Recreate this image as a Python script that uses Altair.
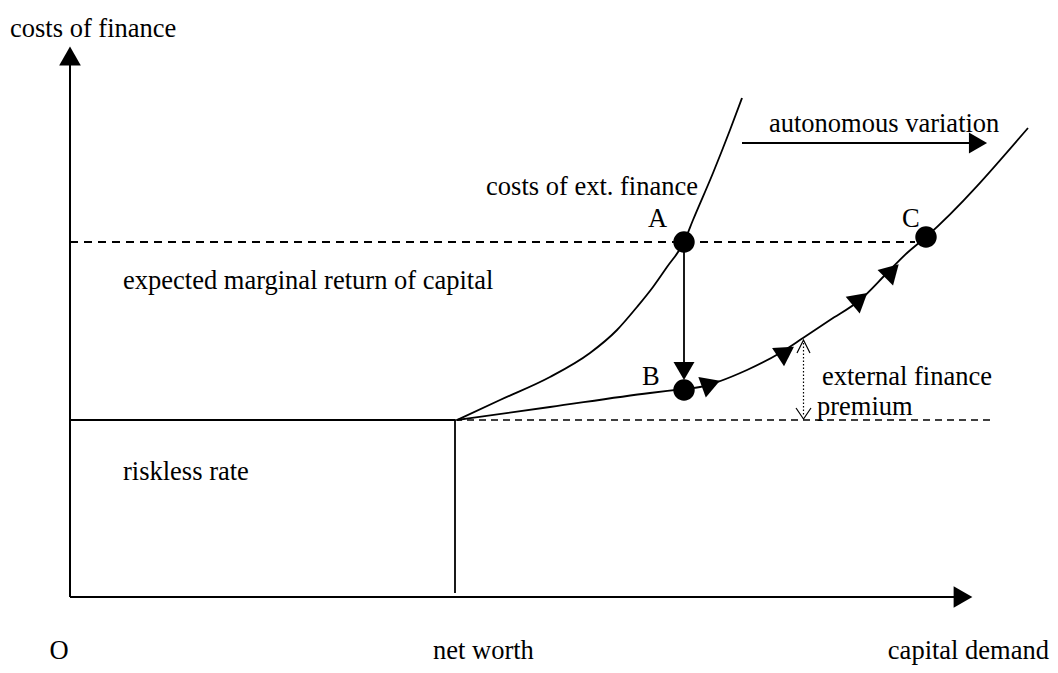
import altair as alt
import pandas as pd
import numpy as np

# ---------------------------------------------------------------
# Schematic drawn in an image-like frame: x to the right, y downward
# ---------------------------------------------------------------
X_DOMAIN = [8, 1050]
Y_DOMAIN = [8, 665]

# curve: costs of external finance (original)
ext_curve_x = [457, 500, 550, 590, 617, 637, 653, 667, 684, 693, 713, 730, 742]
ext_curve_y = [420, 400, 377, 353, 330, 307, 287, 267, 242, 220, 173, 130, 98]

# curve: costs of external finance after autonomous variation
shift_curve_x = [457, 550, 650, 684, 700, 747, 780, 803, 830, 860, 887, 907, 926, 1028]
shift_curve_y = [420, 407, 393, 389, 387, 370, 353, 338, 320, 300, 273, 253, 237, 128]

# equilibrium points
point_labels = ["A", "B", "C"]
point_x = [684, 684, 926]
point_y = [242, 390, 237]

# flow arrowheads along the shifted curve
flow_x = [711, 786, 860, 892]
flow_y = [384, 352, 299, 271]

# straight segments: (x1, y1, x2, y2)
axis_segments = [(70, 597, 70, 64), (70, 597, 957, 597)]
solid_segments = [(70, 420, 455, 420), (455, 420, 455, 593), (684, 242, 684, 366), (742, 143, 972, 143)]
riskless_dash = [(455, 420, 995, 420)]
return_dash = [(70, 242, 915, 242)]
premium_dotted = [(803.5, 343, 803.5, 416)]

# arrowheads: x, y, shape
axis_heads_x = [70, 963]
axis_heads_y = [56, 597]
axis_heads_shape = ["triangle-up", "triangle-right"]
small_heads_x = [684, 978]
small_heads_y = [371, 143]
small_heads_shape = ["triangle-down", "triangle-right"]

# open chevrons of the premium arrow
chev_id = [0, 0, 0, 1, 1, 1]
chev_x = [797, 803.5, 810, 796, 803.5, 811]
chev_y = [353, 340, 353, 408, 419, 408]

# texts
text_left = [
    ("costs of finance", 10, 37),
    ("net worth", 433, 659),
    ("autonomous variation", 769, 132),
    ("A", 648, 227),
    ("B", 642, 385),
    ("C", 902, 227),
    ("expected marginal return of capital", 123, 289),
    ("riskless rate", 123, 480),
    ("external finance", 822, 385),
    ("premium", 817, 415),
]
text_center = [("O", 59, 659)]
text_right = [("costs of ext. finance", 698, 195), ("capital demand", 1049, 659)]

FONT = "Liberation Serif"
FS = 26.5

xs = alt.Scale(domain=X_DOMAIN, nice=False, zero=False)
ys = alt.Scale(domain=Y_DOMAIN, nice=False, zero=False, reverse=True)
X = lambda f: alt.X(f, type="quantitative", scale=xs, axis=None)
Y = lambda f: alt.Y(f, type="quantitative", scale=ys, axis=None)


def seg_df(segs):
    return pd.DataFrame(segs, columns=["x", "y", "x2", "y2"])


def rules(segs, width, dash=None):
    kw = dict(color="black", strokeWidth=width)
    if dash is not None:
        kw["strokeDash"] = dash
    return alt.Chart(seg_df(segs)).mark_rule(**kw).encode(
        x=X("x"), y=Y("y"), x2="x2:Q", y2="y2:Q"
    )


def curve(xv, yv):
    df = pd.DataFrame({"x": xv, "y": yv, "k": range(len(xv))})
    return alt.Chart(df).mark_line(color="black", strokeWidth=1.8, interpolate="monotone").encode(
        x=X("x"), y=Y("y"), order="k:Q"
    )


# angles of the flow arrowheads from the local slope of the shifted curve
cx = np.array(shift_curve_x, dtype=float)
cy = np.array(shift_curve_y, dtype=float)
flow_ang = []
for fx in flow_x:
    dy = np.interp(fx + 4, cx, cy) - np.interp(fx - 4, cx, cy)
    flow_ang.append(float(np.degrees(np.arctan2(dy, 8.0))) % 360)

flow_df = pd.DataFrame({"x": flow_x, "y": flow_y, "ang": flow_ang})
flow_heads = alt.Chart(flow_df).mark_point(
    shape="triangle-right", filled=True, color="black", opacity=1, size=480
).encode(x=X("x"), y=Y("y"), angle=alt.Angle("ang:Q", scale=None))

axis_heads = alt.Chart(pd.DataFrame({"x": axis_heads_x, "y": axis_heads_y, "s": axis_heads_shape})).mark_point(
    filled=True, color="black", opacity=1, size=470
).encode(x=X("x"), y=Y("y"), shape=alt.Shape("s:N", scale=None))

small_heads = alt.Chart(pd.DataFrame({"x": small_heads_x, "y": small_heads_y, "s": small_heads_shape})).mark_point(
    filled=True, color="black", opacity=1, size=440
).encode(x=X("x"), y=Y("y"), shape=alt.Shape("s:N", scale=None))

dots = alt.Chart(pd.DataFrame({"x": point_x, "y": point_y, "lab": point_labels})).mark_point(
    shape="circle", filled=True, color="black", opacity=1, size=460
).encode(x=X("x"), y=Y("y"))

chevrons = alt.Chart(pd.DataFrame({"id": chev_id, "x": chev_x, "y": chev_y, "k": range(len(chev_x))})).mark_line(
    color="black", strokeWidth=1.2
).encode(x=X("x"), y=Y("y"), detail="id:N", order="k:Q")


def texts(items, align):
    df = pd.DataFrame(items, columns=["t", "x", "y"])
    return alt.Chart(df).mark_text(
        align=align, baseline="alphabetic", font=FONT, fontSize=FS, color="black"
    ).encode(x=X("x"), y=Y("y"), text="t:N")


chart = alt.layer(
    rules(return_dash, 2, [8, 6]),
    rules(riskless_dash, 1.5, [7, 5]),
    rules(premium_dotted, 1.2, [1.5, 2]),
    rules(axis_segments, 2),
    rules(solid_segments, 1.8),
    curve(ext_curve_x, ext_curve_y),
    curve(shift_curve_x, shift_curve_y),
    chevrons,
    axis_heads,
    small_heads,
    flow_heads,
    dots,
    texts(text_left, "left"),
    texts(text_center, "center"),
    texts(text_right, "right"),
).properties(
    width=1042, height=657, padding=0, autosize=alt.AutoSizeParams(type="none"),
    background="white",
).configure_view(stroke=None)

chart.save("out.html", embed_options={"renderer": "svg", "actions": False})
